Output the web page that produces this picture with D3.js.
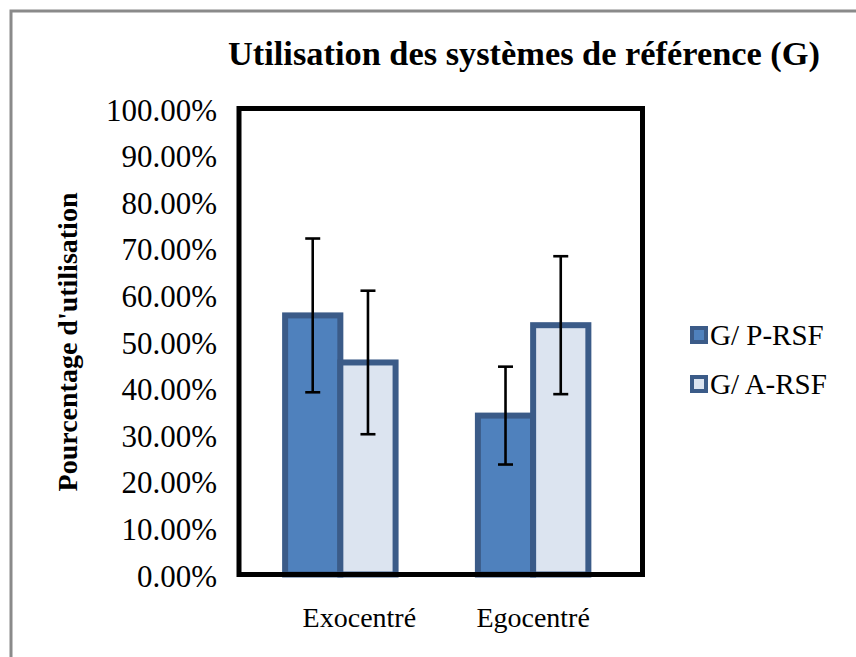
<!DOCTYPE html>
<html>
<head>
<meta charset="utf-8">
<script src="https://cdn.jsdelivr.net/npm/d3@7"></script>
<style>
  body { margin: 0; background: #fff; }
  svg { display: block; }
  text { font-family: "Liberation Serif", "Times New Roman", serif; fill: #000; }
</style>
</head>
<body>
<div></div>
<script>
let categories = ["Exocentré", "Egocentré"]
let seriesNames = ["G/ P-RSF", "G/ A-RSF"]
let pRsf = [55.6, 34.1]
let aRsf = [45.5, 53.5]
let pRsfErr = [16.5, 10.5]
let aRsfErr = [15.4, 14.8]
let yTicks = [0, 10, 20, 30, 40, 50, 60, 70, 80, 90, 100]

let colors = ["#4F81BD", "#DCE4F0"]
let borderColor = "#3B5B88"

let W = 856, H = 657
let plot = {left: 239, right: 642.5, top: 108.5, bottom: 574.5}
// the first category label sits a bit right of its bars in the original
let labelShift = [19, 0]

let svg = d3.select("div")
    .append("svg")
    .attr("width", W)
    .attr("height", H)

// outer chart border (only top/left visible)
svg.append("rect")
    .attr("x", 11)
    .attr("y", 11)
    .attr("width", W + 20)
    .attr("height", H + 20)
    .attr("fill", "none")
    .attr("stroke", "#8a8a8a")
    .attr("stroke-width", 3)

let x0 = d3.scaleBand()
    .domain(categories)
    .range([plot.left, plot.right])
    .paddingInner(0.427)
    .paddingOuter(0.26)
    .align(0.46)

let x1 = d3.scaleBand()
    .domain(seriesNames)
    .range([0, x0.bandwidth()])

let y = d3.scaleLinear()
    .domain([0, 100])
    .range([plot.bottom, plot.top])

// title
svg.append("text")
    .attr("x", 524)
    .attr("y", 65)
    .attr("text-anchor", "middle")
    .attr("font-size", 34)
    .attr("font-weight", "bold")
    .attr("textLength", 592)
    .attr("lengthAdjust", "spacingAndGlyphs")
    .text("Utilisation des systèmes de référence (G)")

// y tick labels
svg.append("g")
    .selectAll("text")
    .data(yTicks)
    .enter()
    .append("text")
    .attr("x", 217)
    .attr("y", function (d) {
        return y(d) + 12
    })
    .attr("text-anchor", "end")
    .attr("font-size", 31)
    .text(function (d) {
        return d.toFixed(2) + "%"
    })

// y axis title
svg.append("text")
    .attr("transform", "translate(77,342)rotate(-90)")
    .attr("text-anchor", "middle")
    .attr("font-size", 28)
    .attr("font-weight", "bold")
    .text("Pourcentage d'utilisation")

// x labels
svg.append("g")
    .selectAll("text")
    .data(categories)
    .enter()
    .append("text")
    .attr("x", function (d, i) {
        return x0(d) + x0.bandwidth() / 2 + labelShift[i]
    })
    .attr("y", 627)
    .attr("text-anchor", "middle")
    .attr("font-size", 28)
    .text(function (d) {
        return d
    })

// bars
let series = [
    {name: seriesNames[0], values: pRsf, errors: pRsfErr, color: colors[0]},
    {name: seriesNames[1], values: aRsf, errors: aRsfErr, color: colors[1]}
]

let rows = []
series.forEach((s) => {
    categories.forEach((c, i) => {
        rows.push({cat: c, name: s.name, value: s.values[i], err: s.errors[i], color: s.color})
    })
})

svg.append("g")
    .selectAll("rect")
    .data(rows)
    .enter()
    .append("rect")
    .attr("x", function (d) {
        return x0(d.cat) + x1(d.name)
    })
    .attr("y", function (d) {
        return y(d.value)
    })
    .attr("width", x1.bandwidth())
    .attr("height", function (d) {
        return y(0) - y(d.value)
    })
    .attr("fill", function (d) {
        return d.color
    })
    .attr("stroke", borderColor)
    .attr("stroke-width", 6)

// frame
svg.append("rect")
    .attr("x", plot.left)
    .attr("y", plot.top)
    .attr("width", plot.right - plot.left)
    .attr("height", plot.bottom - plot.top)
    .attr("fill", "none")
    .attr("stroke", "#000")
    .attr("stroke-width", 5)

// error bars
let eb = svg.append("g")
    .attr("stroke", "#000")
    .attr("stroke-width", 2.6)
    .selectAll("g")
    .data(rows)
    .enter()
    .append("g")
    .attr("transform", function (d) {
        return "translate(" + (x0(d.cat) + x1(d.name) + x1.bandwidth() / 2) + ",0)"
    })

eb.append("line")
    .attr("y1", function (d) {
        return y(d.value + d.err)
    })
    .attr("y2", function (d) {
        return y(d.value - d.err)
    })

eb.append("line")
    .attr("x1", -7.5)
    .attr("x2", 7.5)
    .attr("y1", function (d) {
        return y(d.value + d.err)
    })
    .attr("y2", function (d) {
        return y(d.value + d.err)
    })

eb.append("line")
    .attr("x1", -7.5)
    .attr("x2", 7.5)
    .attr("y1", function (d) {
        return y(d.value - d.err)
    })
    .attr("y2", function (d) {
        return y(d.value - d.err)
    })

// legend
let legend = svg.append("g")
    .selectAll("g")
    .data(series)
    .enter()
    .append("g")
    .attr("transform", function (d, i) {
        return "translate(690," + (326 + i * 49) + ")"
    })

legend.append("rect")
    .attr("x", 2)
    .attr("y", 2)
    .attr("width", 14)
    .attr("height", 14)
    .attr("fill", function (d) {
        return d.color
    })
    .attr("stroke", borderColor)
    .attr("stroke-width", 4)

legend.append("text")
    .attr("x", 20)
    .attr("y", 19)
    .attr("font-size", 29)
    .text(function (d) {
        return d.name
    })
</script>
</body>
</html>
